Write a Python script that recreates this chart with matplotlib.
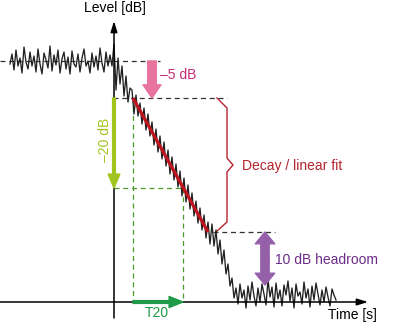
import numpy as np
import matplotlib
matplotlib.use("Agg")
import matplotlib.pyplot as plt

# ---- data (time axis origin at the axis crossing, level measured above time axis) ----
plateau = [238, 248, 232, 252, 236, 244, 229, 255, 240, 233,
           250, 236, 246, 230, 253, 238, 228, 249, 242, 234,
           256, 231, 247, 237, 252, 229, 243, 250, 233, 245,
           228, 251, 238, 235, 248, 230, 244, 253, 236, 241,
           229, 249, 235, 246, 232, 254, 239, 230, 250, 236,
           247, 236, 258]
transition = [212, 244, 218, 236, 206, 226, 200, 214]
decay = [212, 188, 207, 186, 199, 178, 194, 172, 188, 166,
         180, 157, 173, 150, 166, 143, 160, 136, 152, 128,
         145, 122, 138, 115, 131, 106, 124, 100, 117, 93,
         109, 86, 101, 79, 94, 72, 87, 64, 80, 58]
drop = [78, 56, 72, 48, 62, 38, 52, 28, 38, 16, 24, 4]
floor = [14, -2, 18, 4, 12, -6, 16, 2, 20, 6,
         -4, 14, 0, 18, 8, -3, 22, 5, 15, -5,
         19, 3, 12, -4, 17, 7, 21, 1, 14, -6,
         18, 6, 10, -2, 20, 4, 13, -5, 16, 2,
         19, 8, -3, 12, 0, 15, 5, -4, 13, 7, 2]
level = np.array(plateau + transition + decay + drop + floor, dtype=float)
t_start, t_step = -104, 2
time = t_start + t_step * np.arange(len(level))

L_start = 241      # steady-state level
L_minus5 = 204     # -5 dB
L_minus25 = 114    # -25 dB
L_minus35 = 70     # -35 dB
L_noise = 17       # noise floor top of headroom arrow
t_fit = [19, 94]
L_fit = [L_minus5, L_minus35]
t_T20 = [19, 69]

# colors
c_pink = "#e8739f"; c_pink_txt = "#c42a78"
c_yg = "#a2c41e"
c_green = "#1f9a48"; c_gdash = "#4c9a2a"
c_red = "#c0141e"; c_red_txt = "#b4232c"
c_purple = "#9560a8"; c_purple_txt = "#6c2c88"

fig = plt.figure(figsize=(4.0, 3.23), dpi=100)
ax = fig.add_axes([0, 0, 1, 1])
ax.set_xlim(-114, 286)
ax.set_ylim(-21, 302)
ax.axis("off")
fs = 10
fam = ["Liberation Sans", "DejaVu Sans"]

# signal
ax.plot(time, level, color="#222222", lw=0.95, zorder=3)

# axes with arrows
ax.annotate("", xy=(0, 281), xytext=(0, -16),
            arrowprops=dict(arrowstyle="-|>,head_width=0.2,head_length=0.65", color="black", lw=1.1,
                            shrinkA=0, shrinkB=0), zorder=4)
ax.annotate("", xy=(254, 0), xytext=(-114, 0),
            arrowprops=dict(arrowstyle="-|>,head_width=0.2,head_length=0.65", color="black", lw=1.1,
                            shrinkA=0, shrinkB=0), zorder=4)
ax.text(1, 294, "Level [dB]", ha="center", va="center", fontsize=fs, family=fam)
ax.text(238, -13, "Time [s]", ha="center", va="center", fontsize=fs, family=fam)

# dashed reference lines
ax.plot([-114, 46], [L_start, L_start], ls=(0, (4, 3)), color="#333333", lw=0.9, zorder=2)
ax.plot([-1, 113], [L_minus5, L_minus5], ls=(0, (4, 3)), color="#333333", lw=0.9, zorder=2)
ax.plot([99, 161], [L_minus35, L_minus35], ls=(0, (4, 3)), color="#333333", lw=0.9, zorder=2)

# green dashed T20 box
gd = dict(ls=(0, (4, 3)), color=c_gdash, lw=0.9, zorder=2)
ax.plot([t_T20[0], t_T20[0]], [L_minus5, 0], **gd)
ax.plot([0, t_T20[1]], [L_minus25, L_minus25], **gd)
ax.plot([t_T20[1], t_T20[1]], [L_minus25, 0], **gd)

# linear fit
ax.plot(t_fit, L_fit, color=c_red, lw=2.3, solid_capstyle="butt", zorder=5)

# bracket
ax.plot([103, 113, 113, 119, 113, 113, 102], [204, 194, 144, 137, 130, 80, 70],
        color=c_red_txt, lw=1.0, zorder=2)
ax.text(128, 136, "Decay / linear fit", ha="left", va="center", fontsize=fs,
        color=c_red_txt, family=fam)

# -5 dB arrow
ax.annotate("", xy=(38, L_minus5), xytext=(38, L_start),
            arrowprops=dict(arrowstyle="simple,head_width=1.3,head_length=0.95,tail_width=0.62",
                            color=c_pink, shrinkA=0, shrinkB=0), zorder=4)
ax.text(64, 227, "\u20135 dB", ha="center", va="center", fontsize=fs, color=c_pink_txt, family=fam)

# -20 dB arrow
ax.annotate("", xy=(0, L_minus25), xytext=(0, L_minus5),
            arrowprops=dict(arrowstyle="simple,head_width=0.85,head_length=1.0,tail_width=0.2",
                            color=c_yg, shrinkA=0, shrinkB=0), zorder=4)
ax.text(-9, 162, "\u201320 dB", ha="center", va="center", fontsize=fs, color=c_yg,
        rotation=90, family=fam)

# T20 arrow
ax.annotate("", xy=(t_T20[1], 0), xytext=(t_T20[0], 0),
            arrowprops=dict(arrowstyle="simple,head_width=0.8,head_length=1.0,tail_width=0.2",
                            color=c_green, shrinkA=0, shrinkB=0), zorder=5)
ax.text(43, -11, "T20", ha="center", va="center", fontsize=fs, color=c_green, family=fam)

# headroom double arrow
mid = (L_minus35 + L_noise) / 2
for end in (L_minus35, L_noise):
    ax.annotate("", xy=(151, end), xytext=(151, mid),
                arrowprops=dict(arrowstyle="simple,head_width=1.4,head_length=0.85,tail_width=0.6",
                                color=c_purple, shrinkA=0, shrinkB=0), zorder=4)
ax.text(161, 42, "10 dB headroom", ha="left", va="center", fontsize=fs, color=c_purple_txt, family=fam)

fig.savefig("out.png", dpi=100)
